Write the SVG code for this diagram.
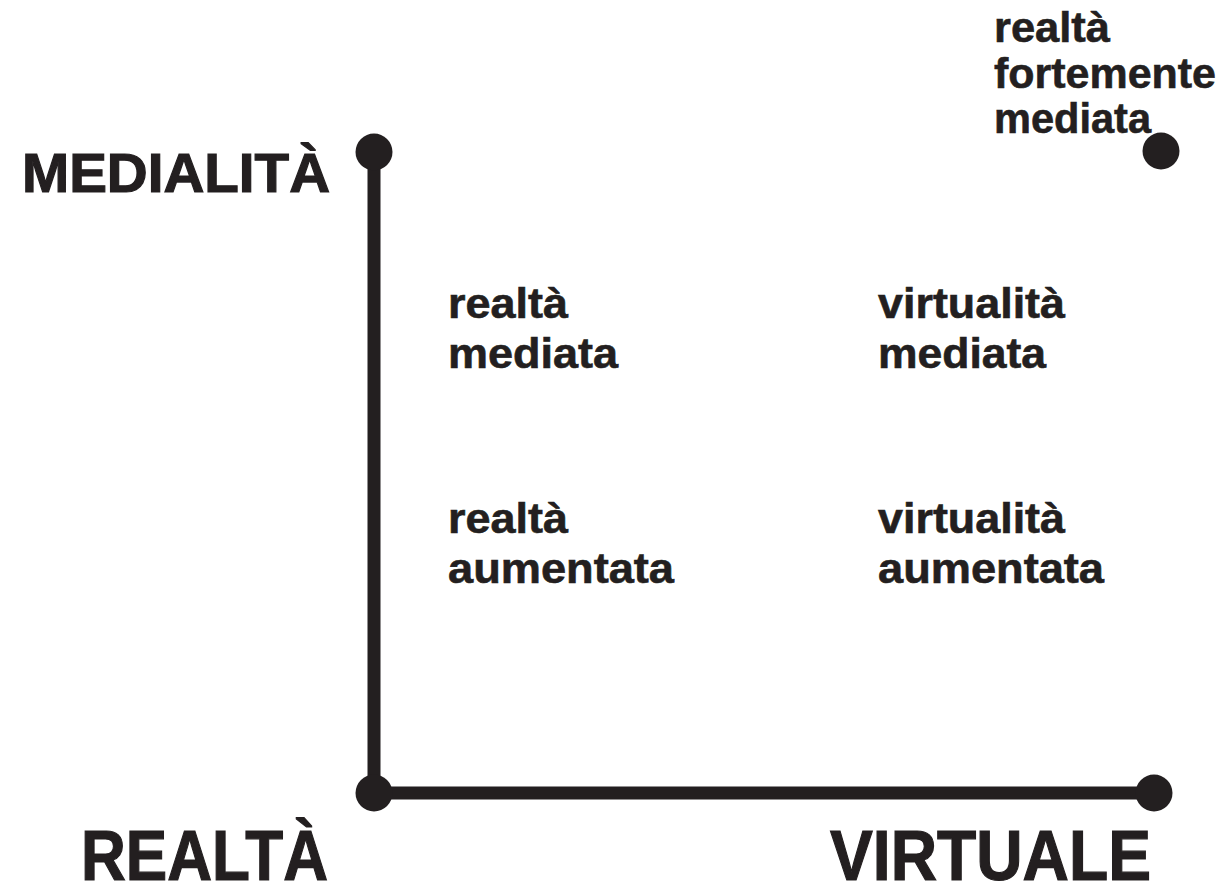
<svg xmlns="http://www.w3.org/2000/svg" width="1224" height="881" viewBox="0 0 1224 881">
<style>
.big{font-family:"Liberation Sans",Arial,sans-serif;font-weight:bold;fill:#231f20;stroke:#231f20;stroke-width:1.2}
.lbl{font-family:"Liberation Sans",Arial,sans-serif;font-weight:bold;fill:#231f20;stroke:#231f20;stroke-width:0.6;font-size:42px}
.dot{fill:#231f20}
.ax{stroke:#231f20;stroke-width:13;fill:none}
</style>
<rect width="1224" height="881" fill="#ffffff"/>
<g id="connectors">
<line class="ax" x1="374" y1="152" x2="374" y2="793"/>
<line class="ax" x1="374" y1="793" x2="1154" y2="793"/>
</g>
<g id="node-medialita">
<circle class="dot" cx="374" cy="152" r="18.5"/>
<text class="big" x="22" y="192" font-size="56" textLength="308" lengthAdjust="spacingAndGlyphs">MEDIALITÀ</text>
</g>
<g id="node-realta">
<circle class="dot" cx="374" cy="793" r="18.5"/>
<text class="big" x="81" y="880" font-size="70" textLength="247" lengthAdjust="spacingAndGlyphs">REALTÀ</text>
</g>
<g id="node-virtuale">
<circle class="dot" cx="1154" cy="793" r="18.5"/>
<text class="big" x="830" y="880" font-size="70" textLength="321" lengthAdjust="spacingAndGlyphs">VIRTUALE</text>
</g>
<g id="node-forte">
<circle class="dot" cx="1161" cy="151" r="18.5"/>
<text class="lbl" x="994" y="42" textLength="116" lengthAdjust="spacingAndGlyphs">realtà</text>
<text class="lbl" x="994" y="88" textLength="222" lengthAdjust="spacingAndGlyphs">fortemente</text>
<text class="lbl" x="994" y="133" textLength="157" lengthAdjust="spacingAndGlyphs">mediata</text>
</g>
<g id="node-realta-mediata">
<text class="lbl" x="448" y="318" textLength="120" lengthAdjust="spacingAndGlyphs">realtà</text>
<text class="lbl" x="448" y="368" textLength="170" lengthAdjust="spacingAndGlyphs">mediata</text>
</g>
<g id="node-virtualita-mediata">
<text class="lbl" x="878" y="318" textLength="187" lengthAdjust="spacingAndGlyphs">virtualità</text>
<text class="lbl" x="878" y="368" textLength="168" lengthAdjust="spacingAndGlyphs">mediata</text>
</g>
<g id="node-realta-aumentata">
<text class="lbl" x="448" y="533" textLength="120" lengthAdjust="spacingAndGlyphs">realtà</text>
<text class="lbl" x="448" y="583" textLength="226" lengthAdjust="spacingAndGlyphs">aumentata</text>
</g>
<g id="node-virtualita-aumentata">
<text class="lbl" x="878" y="533" textLength="187" lengthAdjust="spacingAndGlyphs">virtualità</text>
<text class="lbl" x="878" y="583" textLength="226" lengthAdjust="spacingAndGlyphs">aumentata</text>
</g>
</svg>
